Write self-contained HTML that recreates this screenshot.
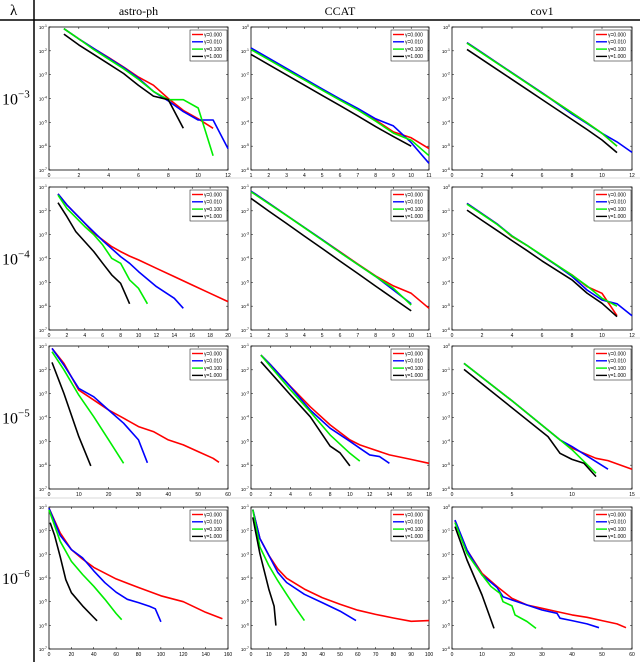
<!DOCTYPE html>
<html><head><meta charset="utf-8">
<style>
html,body{margin:0;padding:0;background:#fff;}
svg{display:block;}
text{font-family:"Liberation Sans",sans-serif;}
.serif{font-family:"Liberation Serif",serif;}
</style></head>
<body>
<svg id="fig" width="640" height="662" viewBox="0 0 640 662" xmlns="http://www.w3.org/2000/svg"></svg>
<script>
// ---- data: each point is [iteration, decades below the top of the y axis] ----
const datasets = ["astro-ph","CCAT","cov1"];
const lambdaExps = ["-3","-4","-5","-6"];
const gammaLabels = ["γ=0.000","γ=0.010","γ=0.100","γ=1.000"];
const seriesColors = ["#ff0000","#0000ff","#00ee00","#000000"];

// row 1 (lambda 1e-3)
const r1c1_red   = [[1,0.07],[2,0.5],[3,0.9],[4,1.28],[5,1.68],[6,2.1],[7,2.44],[8,3.0],[9,3.5],[10,3.85],[11,4.25]];
const r1c1_blue  = [[1,0.07],[2,0.5],[3,0.9],[4,1.3],[5,1.7],[6,2.15],[7,2.7],[8,3.1],[9,3.55],[10,3.9],[11,3.9],[12,5.1]];
const r1c1_green = [[1,0.07],[2,0.5],[3,0.95],[4,1.35],[5,1.75],[6,2.2],[7,2.7],[8,3.05],[9,3.05],[10,3.4],[11,5.4]];
const r1c1_black = [[1,0.3],[2,0.75],[3,1.15],[4,1.55],[5,1.95],[6,2.45],[7,2.9],[8,3.05],[9,4.25]];
const r1c2_red   = [[1,0.9],[2,1.33],[3,1.76],[4,2.19],[5,2.62],[6,3.05],[7,3.45],[8,3.9],[9,4.4],[10,4.65],[11,5.1]];
const r1c2_blue  = [[1,0.88],[2,1.31],[3,1.74],[4,2.17],[5,2.6],[6,3.02],[7,3.42],[8,3.85],[9,4.15],[10,4.85],[11,5.72]];
const r1c2_green = [[1,0.95],[2,1.37],[3,1.8],[4,2.22],[5,2.65],[6,3.07],[7,3.48],[8,3.95],[9,4.45],[10,4.75],[11,5.4]];
const r1c2_black = [[1,1.15],[2,1.58],[3,2.01],[4,2.44],[5,2.87],[6,3.3],[7,3.73],[8,4.18],[9,4.6],[10,5.0]];
const r1c3_red   = [[1,0.66],[2,1.08],[3,1.5],[4,1.92],[5,2.34],[6,2.76],[7,3.18],[8,3.6],[9,4.02],[10,4.46],[11,5.0]];
const r1c3_blue  = [[1,0.66],[2,1.08],[3,1.5],[4,1.92],[5,2.34],[6,2.76],[7,3.2],[8,3.65],[9,4.05],[10,4.46],[11,4.82],[12,5.26]];
const r1c3_green = [[1,0.68],[2,1.1],[3,1.52],[4,1.94],[5,2.36],[6,2.78],[7,3.18],[8,3.6],[9,4.02],[10,4.46],[11,5.0]];
const r1c3_black = [[1,0.94],[2,1.36],[3,1.78],[4,2.2],[5,2.62],[6,3.04],[7,3.46],[8,3.88],[9,4.3],[10,4.74],[11,5.27]];
// row 2 (lambda 1e-4)
const r2c1_red   = [[1,0.29],[2,0.75],[4,1.52],[5,1.94],[6,2.22],[7,2.5],[8,2.71],[9,2.9],[10,3.06],[12,3.41],[14,3.76],[16,4.11],[18,4.46],[20,4.81]];
const r2c1_blue  = [[1,0.29],[2,0.75],[4,1.52],[6,2.25],[8,2.92],[9,3.2],[10,3.55],[12,4.18],[14,4.67],[15,5.09]];
const r2c1_green = [[1,0.34],[2,0.9],[4,1.66],[5,2.0],[6,2.43],[7,2.99],[8,3.2],[9,3.9],[10,4.25],[11,4.9]];
const r2c1_black = [[1,0.66],[2,1.24],[3,1.87],[4,2.29],[5,2.71],[6,3.2],[7,3.69],[8,4.04],[9,4.9]];
const r2c2_red   = [[1,0.17],[2,0.68],[3,1.19],[4,1.7],[5,2.21],[6,2.72],[7,3.23],[8,3.73],[9,4.15],[10,4.46],[11,5.09]];
const r2c2_blue  = [[1,0.17],[2,0.68],[3,1.19],[4,1.7],[5,2.21],[6,2.74],[7,3.25],[8,3.75],[9,4.32],[10,4.9]];
const r2c2_green = [[1,0.2],[2,0.7],[3,1.2],[4,1.71],[5,2.23],[6,2.75],[7,3.25],[8,3.75],[9,4.25],[10,4.95]];
const r2c2_black = [[1,0.48],[2,1.01],[3,1.53],[4,2.06],[5,2.58],[6,3.11],[7,3.63],[8,4.16],[9,4.68],[10,5.2]];
const r2c3_red   = [[1,0.69],[2,1.12],[3,1.55],[4,2.08],[5,2.45],[6,2.88],[7,3.3],[8,3.69],[9,4.18],[10,4.46],[11,5.4]];
const r2c3_blue  = [[1,0.69],[2,1.12],[3,1.55],[4,2.05],[5,2.45],[6,2.88],[7,3.3],[8,3.75],[9,4.32],[10,4.74],[11,4.9],[12,5.4]];
const r2c3_green = [[1,0.72],[2,1.14],[3,1.57],[4,2.06],[5,2.45],[6,2.86],[7,3.28],[8,3.7],[9,4.15],[10,4.67],[11,5.0]];
const r2c3_black = [[1,0.97],[2,1.4],[3,1.82],[4,2.25],[5,2.67],[6,3.1],[7,3.5],[8,3.9],[9,4.45],[10,4.88],[11,5.44]];
// row 3 (lambda 1e-5)
const r3c1_red   = [[1,0.1],[5,0.73],[10,1.85],[15,2.27],[20,2.69],[25,3.03],[30,3.38],[35,3.59],[40,3.94],[45,4.15],[50,4.43],[55,4.71],[57,4.88]];
const r3c1_blue  = [[1,0.1],[5,0.8],[10,1.78],[15,2.13],[20,2.69],[25,3.24],[30,3.94],[33,4.9]];
const r3c1_green = [[1,0.24],[5,1.0],[10,2.06],[15,2.97],[20,3.94],[25,4.92]];
const r3c1_black = [[1,0.69],[5,1.99],[10,3.8],[14,5.03]];
const r3c2_red   = [[1,0.38],[2,0.8],[4,1.7],[6,2.55],[8,3.31],[10,3.94],[11,4.15],[12,4.29],[14,4.57],[16,4.74],[18,4.92]];
const r3c2_blue  = [[1,0.38],[2,0.8],[4,1.72],[6,2.69],[8,3.45],[10,4.0],[11,4.29],[12,4.57],[13,4.64],[14,4.92]];
const r3c2_green = [[1,0.38],[4,1.85],[6,2.76],[8,3.73],[10,4.5],[11,4.83]];
const r3c2_black = [[1,0.66],[4,2.06],[6,2.97],[8,4.2],[9,4.48],[10,5.03]];
const r3c3_red   = [[1,0.73],[5,2.3],[9,3.94],[10,4.29],[12,4.71],[13,4.81],[15,5.17]];
const r3c3_blue  = [[1,0.73],[5,2.3],[9,3.94],[10,4.22],[13,5.17]];
const r3c3_green = [[1,0.73],[5,2.3],[9,3.94],[10,4.35],[12,5.34]];
const r3c3_black = [[1,0.98],[8,3.8],[9,4.5],[10,4.76],[11,4.92],[12,5.48]];
// row 4 (lambda 1e-6)
const r4c1_red   = [[0,0.05],[10,1.1],[20,1.8],[30,2.2],[40,2.55],[60,3.04],[80,3.4],[100,3.75],[120,4.0],[140,4.45],[155,4.72]];
const r4c1_blue  = [[0,0.05],[10,1.2],[20,1.8],[30,2.15],[40,2.7],[50,3.2],[60,3.6],[70,3.9],[80,4.04],[90,4.2],[95,4.3],[100,4.85]];
const r4c1_green = [[0,0.12],[10,1.45],[20,2.3],[30,2.85],[40,3.35],[50,3.9],[60,4.5],[65,4.76]];
const r4c1_black = [[1,0.66],[5,1.2],[10,2.1],[15,3.07],[20,3.62],[30,4.18],[40,4.67],[43,4.81]];
const r4c2_red   = [[1,0.11],[5,1.33],[10,2.04],[15,2.61],[20,3.01],[30,3.47],[40,3.83],[50,4.11],[60,4.36],[70,4.54],[80,4.69],[90,4.83],[100,4.8]];
const r4c2_blue  = [[1,0.11],[5,1.33],[10,2.04],[15,2.76],[20,3.19],[30,3.69],[40,4.04],[50,4.4],[59,4.8]];
const r4c2_green = [[1,0.11],[5,1.69],[10,2.47],[15,3.11],[20,3.69],[25,4.26],[30,4.8]];
const r4c2_black = [[1,0.44],[5,1.97],[10,3.47],[13,4.19],[14,5.01]];
const r4c3_red   = [[1,0.58],[5,1.82],[10,2.8],[15,3.36],[20,3.86],[25,4.14],[30,4.28],[35,4.42],[40,4.56],[45,4.66],[50,4.8],[55,4.94],[58,5.1]];
const r4c3_blue  = [[1,0.55],[5,1.82],[10,2.87],[15,3.4],[17,3.79],[20,3.93],[30,4.35],[35,4.49],[36,4.7],[40,4.8],[45,4.94],[49,5.1]];
const r4c3_green = [[1,0.66],[5,1.96],[10,2.87],[13,3.36],[16,3.65],[17,4.0],[20,4.18],[21,4.56],[25,4.84],[28,5.13]];
const r4c3_black = [[1,0.83],[5,2.24],[10,3.72],[14,5.13]];

// x axis ranges and ticks per panel (row-major)
const xMins  = [0,1,0, 0,1,0, 0,0,0, 0,0,0];
const xMaxs  = [12,11,12, 20,11,12, 60,18,15, 160,100,60];
const xSteps = [2,1,2, 2,1,2, 10,2,5, 20,10,10];
const yTopExps = [-1,0,0, -1,-1,0, -1,-1,0, -1,-1,0];

const panelSeries = [
  [r1c1_red,r1c1_blue,r1c1_green,r1c1_black],[r1c2_red,r1c2_blue,r1c2_green,r1c2_black],[r1c3_red,r1c3_blue,r1c3_green,r1c3_black],
  [r2c1_red,r2c1_blue,r2c1_green,r2c1_black],[r2c2_red,r2c2_blue,r2c2_green,r2c2_black],[r2c3_red,r2c3_blue,r2c3_green,r2c3_black],
  [r3c1_red,r3c1_blue,r3c1_green,r3c1_black],[r3c2_red,r3c2_blue,r3c2_green,r3c2_black],[r3c3_red,r3c3_blue,r3c3_green,r3c3_black],
  [r4c1_red,r4c1_blue,r4c1_green,r4c1_black],[r4c2_red,r4c2_blue,r4c2_green,r4c2_black],[r4c3_red,r4c3_blue,r4c3_green,r4c3_black]
];

// ---- layout ----
const colL = [49,251,452], colR = [228,429,632];
const rowT = [27,187,346,507], rowB = [170,330,489,649];
const NS = "http://www.w3.org/2000/svg";
const svg = document.getElementById('fig');
function mk(tag, attrs, parent){ const e=document.createElementNS(NS,tag); for(const k in attrs) e.setAttribute(k,attrs[k]); (parent||svg).appendChild(e); return e; }

// frame lines
let e;
e = mk('line',{x1:34,y1:0,x2:34,y2:662,stroke:'#000','stroke-width':1.5});
 
e = mk('line',{x1:0,y1:20,x2:640,y2:20,stroke:'#000','stroke-width':1.5});
 
for (const y of [178,338,498]) {
  e = mk('line',{x1:35,y1:y,x2:640,y2:y,stroke:'#d8d8d8','stroke-width':1});
   
}
e = mk('text',{x:10,y:15,'font-size':15,class:'serif'}); e.textContent='λ';
 
datasets.forEach((d,c)=>{
  const t = mk('text',{x:(colL[c]+colR[c])/2,y:15,'font-size':12,'text-anchor':'middle',class:'serif'});
  t.textContent=d;
   
});
lambdaExps.forEach((ex,r)=>{
  const t = mk('text',{x:2,y:(rowT[r]+rowB[r])/2+6,'font-size':16,class:'serif'});
  t.textContent='10';
  const s = mk('tspan',{dy:-7,'font-size':11},t); s.textContent='−'+ex.slice(1);
   
});

for (let r=0;r<4;r++) for (let c=0;c<3;c++) {
  const i=r*3+c;
  const L=colL[c], R=colR[c], T=rowT[r], B=rowB[r];
  const xmin=xMins[i], xmax=xMaxs[i];
  const sx = v => L + (v-xmin)/(xmax-xmin)*(R-L);
  const sy = v => T + v/6*(B-T);
  const g = mk('g',{});
   
  const box = mk('rect',{x:L,y:T,width:R-L,height:B-T,fill:'#fff',stroke:'#000','stroke-width':0.8},g);
   
  // x ticks
  for (let v=xmin; v<=xmax+1e-9; v+=xSteps[i]) {
    const x=sx(v);
    mk('line',{x1:x,y1:B,x2:x,y2:B-2,stroke:'#000','stroke-width':0.5},g);
    mk('line',{x1:x,y1:T,x2:x,y2:T+2,stroke:'#000','stroke-width':0.5},g);
    const t=mk('text',{x:x,y:B+7,'font-size':5,'text-anchor':'middle'},g); t.textContent=v;
     
  }
  // y ticks
  for (let k=0;k<=6;k++){
    const y=sy(k);
    mk('line',{x1:L,y1:y,x2:L+2,y2:y,stroke:'#000','stroke-width':0.5},g);
    mk('line',{x1:R,y1:y,x2:R-2,y2:y,stroke:'#000','stroke-width':0.5},g);
    const t=mk('text',{x:L-2,y:y+2,'font-size':4.5,'text-anchor':'end'},g);
    t.textContent='10'; const s=mk('tspan',{dy:-2,'font-size':3.5},t); s.textContent=String(yTopExps[i]-k);
     
  }
  // series
  panelSeries[i].forEach((pts,s)=>{
    const p = mk('polyline',{points:pts.map(q=>sx(q[0]).toFixed(1)+','+sy(q[1]).toFixed(1)).join(' '),fill:'none',stroke:seriesColors[s],'stroke-width':1.6,'stroke-linejoin':'round'},g);
    
    
  });
  // legend
  const lg = mk('g',{},g);
   
  const lx=R-38, ly=T+3;
  mk('rect',{x:lx,y:ly,width:37,height:31,fill:'#fff',stroke:'#000','stroke-width':0.5},lg);
  gammaLabels.forEach((lab,s)=>{
    const yy=ly+4.5+s*7.3;
    const ln=mk('line',{x1:lx+2,y1:yy,x2:lx+13,y2:yy,stroke:seriesColors[s],'stroke-width':1.4},lg);
    const t=mk('text',{x:lx+14,y:yy+1.8,'font-size':5},lg); t.textContent=lab;
     
  });
}
</script>
</body></html>
